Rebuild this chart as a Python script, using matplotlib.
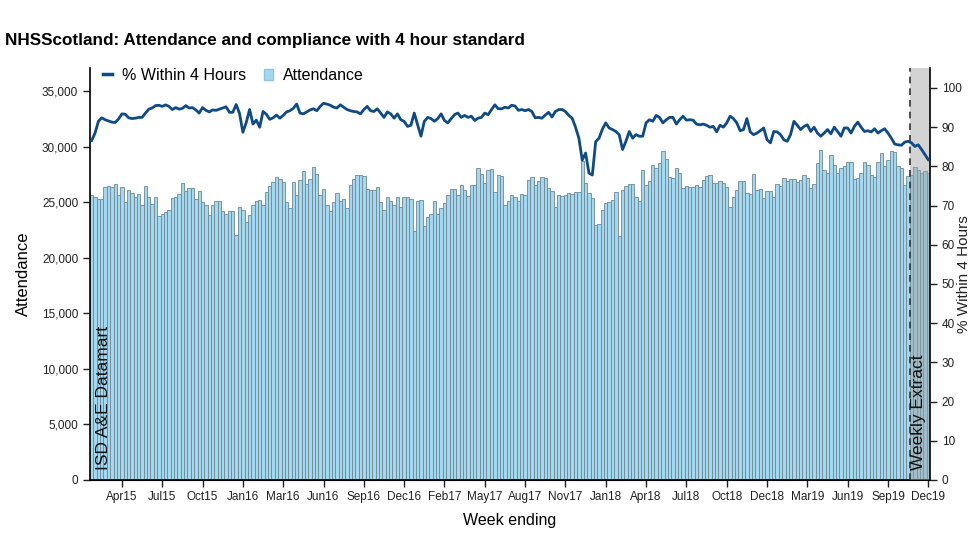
import matplotlib
matplotlib.use("Agg")
import matplotlib.pyplot as plt
from matplotlib.lines import Line2D
from matplotlib.patches import Patch
import numpy as np

# ---- data (weekly, week ending ~22 Feb 2015 .. 1 Dec 2019) ----
attendance = [
    25671, 25491, 25281, 25311, 26331, 26421, 26361, 26631, 25671, 26331, 25011, 26121, 25791, 25491,
    25731, 24771, 26451, 25491, 24831, 25491, 23721, 23931, 24111, 24291, 25371, 25431, 25731, 26721,
    25971, 26271, 26271, 25311, 25971, 24981, 24711, 23871, 24711, 25131, 25071, 24171, 23931, 24171,
    24231, 22072, 24531, 24291, 23212, 23871, 24771, 25071, 25191, 24711, 25881, 26421, 26781, 27261,
    27111, 26781, 24981, 24471, 26781, 25671, 26991, 27771, 26661, 27111, 28161, 27531, 25671, 26211,
    24771, 24171, 25011, 25791, 25071, 25311, 24471, 26571, 27111, 27471, 27411, 27381, 26181, 26121,
    26121, 26391, 24981, 24321, 25431, 25071, 24711, 25431, 24561, 25431, 25431, 25311, 22372, 25071,
    25191, 22822, 23691, 23931, 25131, 23931, 24471, 24891, 25611, 26151, 26211, 25671, 26571, 26091,
    25521, 26571, 26571, 28071, 27531, 26721, 27921, 27981, 25881, 27471, 27321, 24771, 25071,
    25611, 25431, 25071, 25731, 25611, 27021, 27231, 26571, 26931, 27231, 27171, 26271, 26031, 24531,
    25611, 25521, 25611, 25821, 25731, 25881, 25881, 28700, 26721, 25851, 25371, 22972, 23032, 24321,
    24951, 25011, 25191, 25911, 21922, 26091, 26481, 26631, 26631, 25431, 25071, 27861, 26571, 26871,
    28310, 28070, 28520, 29570, 28880, 27230, 27170, 28070, 27590, 26270, 26420, 26330, 26330, 26510,
    26330, 26990, 27320, 27410, 26720, 26720, 26870, 26750, 26330, 24530, 25430, 26120, 26930, 26930,
    25850, 25730, 27530, 26120, 26210, 25370, 26030, 25970, 25430, 26630, 26420, 27170, 26870, 27110,
    27110, 26780, 27020, 27410, 27170, 26270, 26660, 28520, 29660, 27920, 27620, 29270, 28310, 27620,
    28070, 28280, 28610, 28610, 27110, 27170, 27620, 28610, 28370, 27410, 27230, 28610, 29420, 28220,
    28760, 29570, 29510, 28220, 28070, 26510, 27320, 27470, 28190, 27920, 27590, 27770, 27620,
]

pct_within_4h = [
    86.6, 88.5, 91.5, 92.4, 91.9, 91.6, 91.3, 91.2, 92.1, 93.4, 93.3, 92.4, 92.2, 92.3, 92.5, 92.5,
    93.6, 94.6, 94.9, 95.5, 95.6, 95.3, 95.7, 95.3, 94.5, 95.0, 94.6, 94.8, 95.5, 94.9, 95.0, 94.4,
    93.6, 95.0, 94.3, 93.9, 94.4, 94.3, 94.6, 94.9, 95.2, 93.8,
    93.8, 95.8, 93.5, 88.7, 91.2, 94.5, 90.8, 91.8, 90.0, 94.0, 93.3, 92.0, 92.4, 93.1, 92.3, 93.0,
    93.9, 94.2, 94.8, 95.9, 93.6, 93.4, 93.9, 94.4, 94.7, 94.2, 95.3, 96.1, 95.9, 95.6, 95.1, 94.9,
    95.7, 95.1, 94.5, 94.2, 94.0, 93.9, 93.4, 94.5, 95.3, 94.2,
    94.0, 94.7, 93.6, 92.5, 93.9, 93.4, 92.3, 93.4, 91.9, 91.5, 90.2, 90.5, 93.6, 90.6, 87.7, 91.5,
    92.5, 92.2, 91.5, 92.2, 93.4, 91.7, 91.1, 92.2, 93.2, 93.6, 92.5, 93.0, 92.5, 92.8, 91.7, 92.3,
    92.5, 93.6, 93.2, 94.5, 95.7, 94.7, 94.7, 95.1, 94.9, 95.6,
    95.4, 94.3, 94.5, 94.2, 94.5, 94.0, 92.4, 92.5, 92.3, 93.1, 93.8, 92.6, 94.0, 94.5, 94.5, 94.0,
    93.0, 92.3, 90.0, 87.2, 81.6, 83.4, 78.3, 77.8, 86.3, 87.2, 89.5, 91.1, 89.8, 89.4, 88.9, 88.1,
    84.3, 86.4, 88.9, 87.2, 88.1, 87.7, 87.7, 91.1, 91.9,
    91.5, 93.0, 92.5, 91.1, 91.9, 92.5, 92.5, 90.8, 91.9, 92.8, 91.8, 91.9, 91.8, 90.8, 90.6, 90.8,
    90.5, 90.0, 90.2, 88.8, 90.5, 90.0, 91.1, 92.8, 92.2, 91.1, 89.1, 89.4, 92.2, 88.8, 88.1, 88.5,
    89.1, 89.8, 86.8, 86.0, 88.9, 88.8, 88.1, 86.8, 86.4, 88.1,
    91.5, 90.5, 89.4, 90.2, 90.6, 88.9, 90.0, 88.5, 87.7, 88.5, 89.4, 88.3, 90.0, 88.9, 87.7, 89.8,
    89.8, 88.5, 90.2, 91.3, 90.0, 88.9, 89.1, 88.8, 89.6, 88.5, 89.1, 89.6, 88.5, 87.2, 85.7, 85.5,
    85.4, 86.2, 86.4, 86.0, 85.1, 85.5, 84.3, 83.0, 81.7,
]

tick_labels = ["Apr15", "Jul15", "Oct15", "Jan16", "Mar16", "Jun16", "Sep16", "Dec16", "Feb17",
               "May17", "Aug17", "Nov17", "Jan18", "Apr18", "Jul18", "Oct18", "Dec18", "Mar19",
               "Jun19", "Sep19", "Dec19"]
first_tick_week = 9      # week index of first labelled tick (26 Apr 2015)
tick_step_weeks = 12
weekly_extract_start = 244  # first week from weekly extract

plt.rcParams["font.family"] = ["Liberation Sans", "DejaVu Sans"]

n = len(attendance)
x = np.arange(n)

W, H = 976, 549
fig = plt.figure(figsize=(W / 100, H / 100), dpi=100)
ax = fig.add_axes([90 / W, 1 - 480 / H, (930 - 90) / W, (480 - 68) / H])
ax2 = ax.twinx()

bar_face = "#a3d8ee"
bar_edge = "#6f8996"
line_col = "#0d4a87"

ax.bar(x, attendance, width=1.0, color=bar_face, edgecolor=bar_edge, linewidth=0.6, zorder=2)
ax.set_xlim(-0.5, n - 0.5)
ax.set_ylim(0, 37070)
ax.set_yticks(np.arange(0, 35001, 5000))
ax.set_yticklabels([f"{v:,}" for v in range(0, 35001, 5000)])

# shaded weekly extract region
ax.axvspan(weekly_extract_start - 0.5, n - 0.5, color="#9e9e9e", alpha=0.45, zorder=3, lw=0)
ax.axvline(weekly_extract_start - 0.5, color="#333333", lw=1.2, ls=(0, (4, 3)), zorder=4)

ax2.plot(x, pct_within_4h, color=line_col, lw=2.0, zorder=5)
ax2.set_ylim(0, 105.1)
ax2.set_yticks(np.arange(0, 101, 10))

ticks = [first_tick_week + tick_step_weeks * k for k in range(len(tick_labels))]
ax.set_xticks(ticks)
ax.set_xticklabels(tick_labels, fontsize=8.5)

for a in (ax, ax2):
    a.spines["top"].set_visible(False)
    a.tick_params(labelsize=8.5, colors="#222222", length=5, width=1)
ax.spines["right"].set_visible(False)
ax2.spines["left"].set_visible(False)
for s in ("left", "bottom"):
    ax.spines[s].set_linewidth(1.2)
ax2.spines["right"].set_linewidth(1.2)
ax.tick_params(axis="x", pad=3)

ax.set_ylabel("Attendance", fontsize=12, labelpad=8)
ax2.set_ylabel("% Within 4 Hours", fontsize=11, color="#222222")
ax2.yaxis.set_label_coords((957 - 90) / 840, 0.5)
ax.set_xlabel("Week ending", fontsize=11.5, labelpad=7)

ax.text(3.5, 900, "ISD A&E Datamart", rotation=90, fontsize=12.5, ha="center", va="bottom",
        color="#111111", zorder=6)
ax.text(weekly_extract_start + 2.2, 900, "Weekly Extract", rotation=90, fontsize=12.5,
        ha="center", va="bottom", color="#111111", zorder=6)

fig.text(5 / W, 1 - 40 / H, "NHSScotland: Attendance and compliance with 4 hour standard",
         fontsize=12.3, fontweight="bold", ha="left", va="center")

handles = [Line2D([0], [0], color=line_col, lw=2.5),
           Patch(facecolor=bar_face, edgecolor="#8cc4dc")]
ax2.legend(handles, ["% Within 4 Hours", "Attendance"], loc="upper left",
           bbox_to_anchor=(-0.002, 1.035), ncol=2, frameon=False, fontsize=11.5,
           handlelength=0.6, handletextpad=0.6, columnspacing=1.1)

fig.savefig("out.png", dpi=100)
